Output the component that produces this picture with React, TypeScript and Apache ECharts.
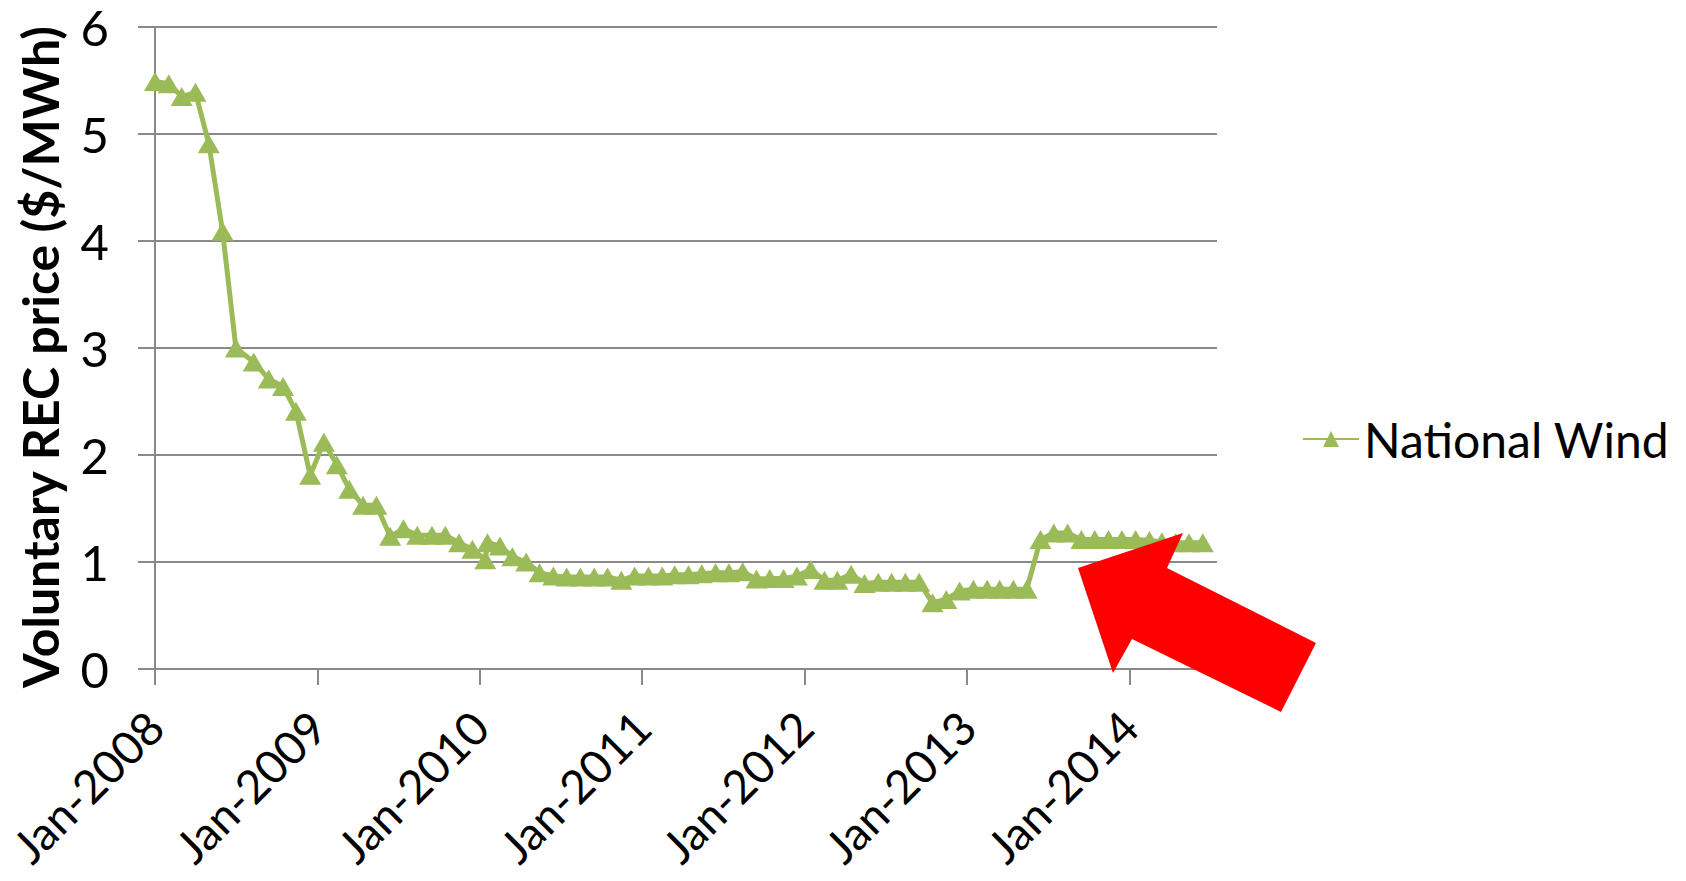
import React, { useEffect, useRef } from "react";
import * as echarts from "echarts";

// Observation dates (Excel date axis)
const dates: string[] = [
  "2008-01-01", "2008-02-01", "2008-03-01", "2008-04-01", "2008-05-01", "2008-06-01", "2008-07-01",
  "2008-08-10", "2008-09-13", "2008-10-15", "2008-11-13", "2008-12-15",
  "2009-01-15", "2009-02-13", "2009-03-13", "2009-04-13", "2009-05-13", "2009-06-13",
  "2009-07-13", "2009-08-13", "2009-09-15", "2009-10-15", "2009-11-15", "2009-12-15",
  "2010-01-13", "2010-01-18", "2010-02-15", "2010-03-15", "2010-04-15", "2010-05-15", "2010-06-15",
  "2010-07-15", "2010-08-15", "2010-09-15", "2010-10-15", "2010-11-15", "2010-12-15",
  "2011-01-15", "2011-02-15", "2011-03-15", "2011-04-15", "2011-05-15", "2011-06-15",
  "2011-07-15", "2011-08-15", "2011-09-15", "2011-10-15", "2011-11-15", "2011-12-15",
  "2012-01-15", "2012-02-15", "2012-03-15", "2012-04-15", "2012-05-15", "2012-06-15",
  "2012-07-15", "2012-08-15", "2012-09-15", "2012-10-15", "2012-11-15", "2012-12-15",
  "2013-01-15", "2013-02-15", "2013-03-15", "2013-04-15", "2013-05-15", "2013-06-15",
  "2013-07-15", "2013-08-15", "2013-09-15", "2013-10-15", "2013-11-15", "2013-12-15",
  "2014-01-15", "2014-02-15", "2014-03-15", "2014-04-15", "2014-05-15", "2014-06-15",
];

// National Wind voluntary REC price ($/MWh)
const nationalWind: number[] = [
  5.49, 5.47, 5.35, 5.39, 4.91, 4.09, 3.0,
  2.87, 2.71, 2.64, 2.41, 1.81,
  2.12, 1.91, 1.68, 1.53, 1.53, 1.24,
  1.31, 1.25, 1.25, 1.25, 1.18, 1.12,
  1.02, 1.18, 1.15, 1.05, 1.0, 0.9, 0.87,
  0.86, 0.86, 0.86, 0.86, 0.83, 0.87,
  0.87, 0.87, 0.88, 0.88, 0.89, 0.9,
  0.9, 0.91, 0.84, 0.845, 0.845, 0.87,
  0.93, 0.83, 0.83, 0.885, 0.8, 0.81,
  0.81, 0.81, 0.81, 0.62, 0.65, 0.73,
  0.745, 0.745, 0.745, 0.745, 0.745, 1.21,
  1.27, 1.27, 1.21, 1.21, 1.21, 1.21,
  1.21, 1.2, 1.19, 1.18, 1.18, 1.18,
];

const xTickDates: string[] = [
  "2008-01-01", "2009-01-01", "2010-01-01", "2011-01-01", "2012-01-01", "2013-01-01", "2014-01-01",
];
const xStart = "2008-01-01";
const xEnd = "2014-07-17";
const yMin = 0;
const yMax = 6;
const yStep = 1;

const seriesName = "National Wind";
const yTitle = "Voluntary REC price ($/MWh)";

const toTs = (s: string) => {
  const [y, m, d] = s.split("-").map(Number);
  return new Date(y, m - 1, d).getTime();
};

export default function App() {
  const ref = useRef<HTMLDivElement>(null);
  useEffect(() => {
    if (!ref.current) return;
    const chart = echarts.init(ref.current, null, { renderer: "svg" });
    const font = 'Lato, "Liberation Sans", sans-serif';
    const gray = "#898989";
    const green = "#9BBB59";
    const tickTs = xTickDates.map(toTs);
    chart.setOption({
      animation: false,
      backgroundColor: "#ffffff",
      textStyle: { fontFamily: font },
      grid: {
        left: 155,
        top: 27,
        width: 1062,
        height: 642,
        containLabel: false,
        outerBoundsMode: "none",
      },
      legend: {
        data: [seriesName],
        left: 1297,
        top: 410,
        itemWidth: 56,
        itemHeight: 20,
        textStyle: { fontSize: 48, color: "#000", fontFamily: font },
      },
      xAxis: {
        type: "value",
        min: toTs(xStart),
        max: toTs(xEnd),
        scale: true,
        splitLine: { show: false },
        axisLine: { show: true, lineStyle: { color: gray, width: 2 } },
        axisTick: {
          show: true,
          length: 16,
          lineStyle: { color: gray, width: 2 },
          customValues: tickTs,
        },
        axisLabel: {
          customValues: tickTs,
          rotate: 45,
          margin: 50,
          fontSize: 46,
          lineHeight: 46,
          color: "#000",
          fontFamily: font,
          formatter: (v: number) => "Jan-" + new Date(v).getFullYear(),
        },
      },
      yAxis: {
        type: "value",
        min: yMin,
        max: yMax,
        interval: yStep,
        name: yTitle,
        nameLocation: "middle",
        nameRotate: 90,
        nameGap: 90,
        nameTextStyle: {
          fontSize: 50,
          fontWeight: "bold",
          color: "#000",
          fontFamily: font,
          padding: [0, 18, 0, 0],
        },
        axisLine: { show: true, lineStyle: { color: gray, width: 2 } },
        axisTick: { show: true, length: 17, lineStyle: { color: gray, width: 2 } },
        splitLine: { show: true, lineStyle: { color: gray, width: 2 } },
        axisLabel: { fontSize: 49, lineHeight: 40, color: "#000", margin: 46, fontFamily: font },
      },
      series: [
        {
          name: seriesName,
          type: "line",
          data: dates.map((d, i) => [toTs(d), nationalWind[i]]),
          symbol: "triangle",
          symbolSize: [22, 19],
          showSymbol: true,
          itemStyle: { color: green },
          lineStyle: { color: green, width: 5 },
          z: 3,
        },
      ],
      graphic: [
        {
          type: "polygon",
          z: 100,
          shape: {
            points: [
              [1078, 568],
              [1183, 533],
              [1167, 568],
              [1316, 643],
              [1281, 712],
              [1132, 639],
              [1113, 673],
            ],
          },
          style: { fill: "#FF0000" },
        },
      ],
    });
    return () => chart.dispose();
  }, []);
  return (
    <div
      ref={ref}
      style={{ position: "fixed", left: 0, top: 0, width: 1686, height: 881, background: "#fff" }}
    />
  );
}
